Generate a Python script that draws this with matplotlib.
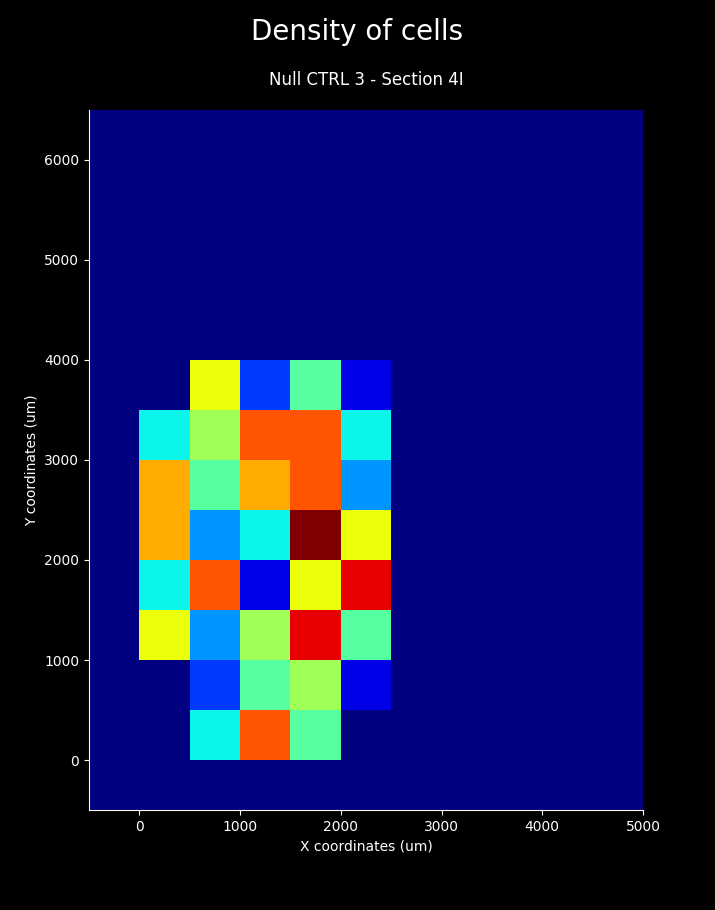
import numpy as np
import matplotlib.pyplot as plt

# bin edges (um)
x_edges = np.arange(-500, 5001, 500)
y_edges = np.arange(-500, 6501, 500)

# cell counts for the occupied block, x 0..2500, y 0..4000 (rows bottom -> top)
block_x0 = 0
block_y0 = 0
counts_block = [
    [0, 4, 9, 5, 0],
    [0, 2, 5, 6, 1],
    [7, 3, 6, 10, 5],
    [4, 9, 1, 7, 10],
    [8, 3, 4, 11, 7],
    [8, 5, 8, 9, 3],
    [4, 6, 9, 9, 4],
    [0, 7, 2, 5, 1],
]

title = "Density of cells"
subtitle = "Null CTRL 3 - Section 4I"

counts = np.zeros((len(y_edges) - 1, len(x_edges) - 1))
i0 = np.searchsorted(y_edges, block_y0)
j0 = np.searchsorted(x_edges, block_x0)
blk = np.array(counts_block, dtype=float)
counts[i0:i0 + blk.shape[0], j0:j0 + blk.shape[1]] = blk

plt.style.use('dark_background')
fig = plt.figure(figsize=(7.15, 9.1), dpi=100)
ax = fig.add_axes([89 / 715, 1 - 810 / 910, 554 / 715, 700 / 910])

ax.pcolormesh(x_edges, y_edges, counts, cmap='jet', vmin=0, vmax=counts.max())
ax.set_xlim(-500, 5000)
ax.set_ylim(-500, 6500)
ax.set_xticks(np.arange(0, 5001, 1000))
ax.set_yticks(np.arange(0, 6001, 1000))

ax.spines['top'].set_visible(False)
ax.spines['right'].set_visible(False)
ax.set_xlabel("X coordinates (um)")
ax.set_ylabel("Y coordinates (um)")
ax.set_title(subtitle, fontsize=12, pad=18)
fig.suptitle(title, fontsize=20, y=1 - 32 / 910, va='center')

fig.savefig("out.png", dpi=100, facecolor='black')
